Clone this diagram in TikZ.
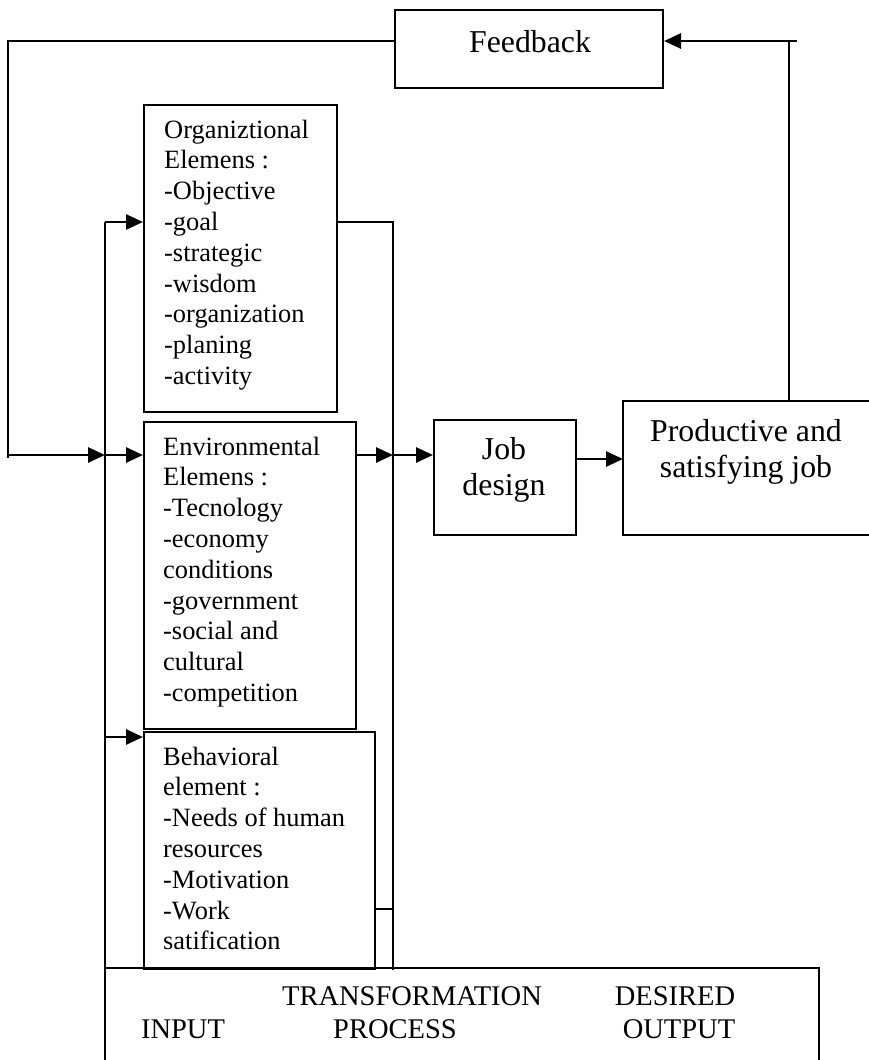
\documentclass[tikz,border=0pt]{standalone}
\usepackage{fontspec}
\setmainfont{Liberation Serif}
\usetikzlibrary{arrows.meta}

\begin{document}
\begin{tikzpicture}[x=1pt, y=-1pt,
  box/.style={draw, line width=2pt, rectangle, inner sep=0pt, anchor=north west},
  openbox/.style={rectangle, inner sep=0pt, anchor=north west},
  wire/.style={line width=2pt},
  flow/.style={line width=2.8pt, -{Triangle[length=17pt, width=15pt]}},
  body/.style={font=\fontsize{26.4}{30.8}\selectfont, align=left, inner sep=0pt, anchor=north west},
  big/.style={font=\fontsize{31.8}{36.5}\selectfont, align=center, inner sep=0pt, anchor=north},
  foot/.style={font=\fontsize{28.5}{33}\selectfont, inner sep=0pt, anchor=base},
]
\useasboundingbox (0,0) rectangle (869,1060);
\fill[white] (0,0) rectangle (869,1060);

% boxes
\node[box, minimum width=268pt, minimum height=78pt]  (fb)  at (394,9)   {};
\node[box, minimum width=193pt, minimum height=307pt] (org) at (143,104) {};
\node[box, minimum width=212pt, minimum height=307pt] (env) at (143,421) {};
\node[box, minimum width=231pt, minimum height=237pt] (beh) at (143,731) {};
\node[box, minimum width=142pt, minimum height=115pt] (job) at (433,419) {};
\node[openbox, minimum width=246pt, minimum height=134pt] (prod) at (623,401) {};
\node[openbox, minimum width=714pt, minimum height=92pt]  (tp)   at (105,968) {};

% boxes that run off the page edge: drawn open
\draw[wire] (prod.north east) -- (prod.north west) -- (prod.south west) -- (prod.south east);
\draw[wire] (tp.south west) -- (tp.north west) -- (tp.north east) -- (tp.south east);

% texts
\node[anchor=base, inner sep=0pt, font=\fontsize{31.8}{36.5}\selectfont] (fbtext) at (530,52) {Feedback};
\node[body] (orgtext) at (164,116.4) {\strut Organiztional\\Elemens :\\-Objective\\-goal\\-strategic\\-wisdom\\-organization\\-planing\\-activity};
\node[body] (envtext) at (163,433.4) {\strut Environmental\\Elemens :\\-Tecnology\\-economy\\conditions\\-government\\-social and\\cultural\\-competition};
\node[body] (behtext) at (163,743.4) {\strut Behavioral\\element :\\-Needs of human\\resources\\-Motivation\\-Work\\satification};
\node[big] (jobtext)  at (504,433.4) {\strut Job\\design};
\node[big] (prodtext) at (746,415.4) {\strut Productive and\\satisfying job};

\node[foot] (tIn)   at (183,1038) {INPUT};
\node[foot] (tTr)   at (412,1005) {TRANSFORMATION};
\node[foot] (tPr)   at (395,1038) {PROCESS};
\node[foot] (tDe)   at (675,1005) {DESIRED};
\node[foot] (tOu)   at (679,1038) {OUTPUT};

% junction points and rows
\coordinate (rise)    at (789,41);
\coordinate (riseend) at (797,41);
\coordinate (loopTop) at (8,41);
\coordinate (loopJ)   at (8,455);
\coordinate (loopBot) at (8,458);
\coordinate (spine)   at (105,222);
\coordinate (col)     at (393,222);
\coordinate (colBot)  at (393,970);
\coordinate (envrow)  at (0,455);
\coordinate (behrow)  at (0,737);
\coordinate (behout)  at (0,909);
\coordinate (jprow)   at (0,459);

% feedback from the outcome back to the feedback box
\draw[wire] (prod.north -| rise) -- (rise) -- (riseend);
\draw[flow] (riseend) -- (fb.east |- rise);

% feedback into the inputs
\draw[wire] (fb.west |- loopTop) -- (loopTop) -- (loopBot);
\draw[flow] (loopJ) -- (spine |- loopJ);
\draw[flow] (spine |- envrow) -- (env.west |- envrow);

% input spine feeding the three element boxes
\draw[wire] (spine) -- (tp.north west);
\draw[flow] (spine) -- (org.west |- spine);
\draw[flow] (spine |- behrow) -- (beh.west |- behrow);

% collector on the right of the element boxes
\draw[wire] (org.east |- col) -- (col) -- (colBot);
\draw[flow] (env.east |- envrow) -- (col |- envrow);
\draw[flow] (col |- envrow) -- (job.west |- envrow);
\draw[wire] (beh.east |- behout) -- (col |- behout);

% job design to outcome
\draw[flow] (job.east |- jprow) -- (prod.west |- jprow);
\end{tikzpicture}
\end{document}
